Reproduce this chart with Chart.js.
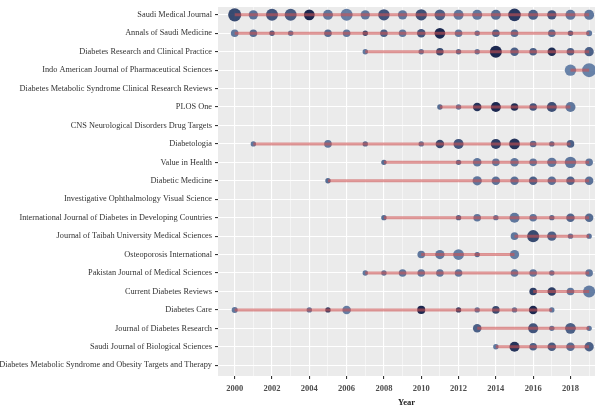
<!DOCTYPE html>
<html>
<head>
<meta charset="utf-8">
<script src="https://cdn.jsdelivr.net/npm/chart.js@4.4.1/dist/chart.umd.min.js"></script>
<style>
  html, body { margin: 0; padding: 0; background: #fff; }
  #wrap { width: 602px; height: 408px; position: relative; }
</style>
</head>
<body>
<div id="wrap"><canvas id="myChart"></canvas></div>
<script>
// journals, top to bottom
const journals = [
  'Saudi Medical Journal',
  'Annals of Saudi Medicine',
  'Diabetes Research and Clinical Practice',
  'Indo American Journal of Pharmaceutical Sciences',
  'Diabetes Metabolic Syndrome Clinical Research Reviews',
  'PLOS One',
  'CNS Neurological Disorders Drug Targets',
  'Diabetologia',
  'Value in Health',
  'Diabetic Medicine',
  'Investigative Ophthalmology Visual Science',
  'International Journal of Diabetes in Developing Countries',
  'Journal of Taibah University Medical Sciences',
  'Osteoporosis International',
  'Pakistan Journal of Medical Sciences',
  'Current Diabetes Reviews',
  'Diabetes Care',
  'Journal of Diabetes Research',
  'Saudi Journal of Biological Sciences',
  'Diabetes Metabolic Syndrome and Obesity Targets and Therapy'
];

// publication years per journal
const pubYears = [
  [2000,2001,2002,2003,2004,2005,2006,2007,2008,2009,2010,2011,2012,2013,2014,2015,2016,2017,2018,2019],
  [2000,2001,2002,2003,2005,2006,2007,2008,2009,2010,2011,2012,2013,2014,2015,2017,2018,2019],
  [2007,2010,2011,2012,2013,2014,2015,2016,2017,2018,2019],
  [2018,2019],
  [],
  [2011,2012,2013,2014,2015,2016,2017,2018],
  [],
  [2001,2005,2007,2010,2011,2012,2014,2015,2016,2017,2018],
  [2008,2012,2013,2014,2015,2016,2017,2018,2019],
  [2005,2013,2014,2015,2016,2017,2018,2019],
  [],
  [2008,2012,2013,2014,2015,2016,2017,2018,2019],
  [2015,2016,2017,2018,2019],
  [2010,2011,2012,2013,2015],
  [2007,2008,2009,2010,2011,2012,2015,2016,2017,2019],
  [2016,2017,2018,2019],
  [2000,2004,2005,2006,2010,2012,2013,2014,2015,2016,2017],
  [2013,2016,2017,2018,2019],
  [2014,2015,2016,2017,2018,2019],
  []
];

// number of articles (bubble size)
const pubCounts = [
  [12,6,10,10,8,7,10,6,9,6,9,8,7,7,7,11,7,6,7,7],
  [4,4,2,2,4,4,2,4,4,5,8,4,2,4,4,4,2,2.5],
  [2,2,4,2,2,10,5,4,5,4,6],
  [9,13.5],
  [],
  [2,2,5,7,4,4,7,7],
  [],
  [2,4,2,2,5,7,7,8,3,2,4],
  [2,2,5,4,5,4,6,9,4],
  [2,6,5,5,5,5,5,5],
  [],
  [2,2,4,2,7,4,2,5,5],
  [4,10,6,2,2],
  [4,6,8,2,6],
  [2,2,4,4,4,4,4,4,2,4],
  [4,5,4,10],
  [2.5,2,2,5,4.5,2,2,4,2,5,2],
  [5,7,2,8,2],
  [2,7,4,5,5,6],
  []
];

// citation impact (bubble shade, 0 light .. 10 dark)
const pubImpact = [
  [7,3.5,6,5.5,10,3,2.5,3,6,3,6.5,5,3,3,4,8.5,5,6,3,3],
  [3,4,5,3,4,3,7,5,3,6,10,3,3,5,4,4,5,3],
  [3,3,7,4,3,10,5,5,9.5,5,5],
  [2,2],
  [],
  [4,3,9,10,9.5,6,6.5,3],
  [],
  [3,3,4,3,7,6,8,9,4,4,5],
  [4,4,3,3,3,3,3,3,3],
  [4,3,3.5,3.5,5,3.5,4.5,3.5],
  [],
  [4,4.5,3,3,3,3,4,4.5,4],
  [3,7,5,3,3.5],
  [3,3,2.5,4,2.5],
  [3,3,3,3,3,3,3,3,3,3],
  [8,8,3,2.5],
  [3,3,8,2.5,10,8,3,7,3,10,3],
  [5,6,3,5,3],
  [3,9,5,5.5,4,5],
  []
];

const tickYears = [2000,2001,2002,2003,2004,2005,2006,2007,2008,2009,2010,2011,2012,2013,2014,2015,2016,2017,2018,2019];

function shade(v) {
  const t = v / 10;
  const a = [112, 144, 186], b = [4, 18, 62];
  const c = a.map((x, i) => Math.round(x + (b[i] - x) * t));
  return 'rgba(' + c.join(',') + ',0.9)';
}

const points = [], colors = [];
const segments = [];
journals.forEach((name, i) => {
  const yrs = pubYears[i];
  yrs.forEach((yr, j) => {
    points.push({ x: yr, y: i + 1, r: 1.9 * Math.sqrt(pubCounts[i][j]) });
    colors.push(shade(pubImpact[i][j]));
  });
  if (yrs.length > 1) {
    segments.push({
      type: 'line',
      data: [{ x: yrs[0], y: i + 1 }, { x: yrs[yrs.length - 1], y: i + 1 }],
      borderColor: 'rgba(205,80,80,0.58)',
      borderWidth: 3,
      pointRadius: 0,
      order: 0
    });
  }
});

const panelBg = {
  id: 'panelBg',
  beforeDraw(chart) {
    const a = chart.chartArea, ctx = chart.ctx;
    ctx.save();
    ctx.fillStyle = '#EBEBEB';
    ctx.fillRect(a.left, a.top, a.right - a.left, a.bottom - a.top);
    ctx.restore();
  }
};

const serif = 'Liberation Serif';

let myChart = document.getElementById('myChart').getContext('2d');

new Chart(myChart, {
  data: {
    datasets: segments.concat([{
      type: 'bubble',
      data: points,
      backgroundColor: colors,
      borderWidth: 0,
      order: 1
    }])
  },
  options: {
    responsive: true,
    maintainAspectRatio: false,
    animation: false,
    layout: { padding: 0 },
    plugins: { legend: { display: false }, tooltip: { enabled: false } },
    scales: {
      x: {
        type: 'linear',
        position: 'bottom',
        min: 1999.105,
        max: 2019.316,
        afterBuildTicks: s => { s.ticks = tickYears.map(v => ({ value: v })); },
        afterFit: s => { s.height = 32; s.paddingLeft = 0; s.paddingRight = 0; },
        ticks: {
          callback: v => (v % 2 === 0 ? String(v) : ''),
          color: '#4d4d4d',
          font: { family: serif, size: 8.5, weight: 'bold' },
          padding: 5,
          maxRotation: 0,
          autoSkip: false
        },
        grid: {
          color: '#ffffff',
          lineWidth: c => (c.tick && c.tick.value % 2 === 0 ? 1.1 : 0.5),
          tickColor: c => (c.tick && c.tick.value % 2 === 0 ? '#333333' : 'rgba(0,0,0,0)'),
          tickLength: 3
        },
        border: { display: false },
        title: {
          display: true,
          text: 'Year',
          color: '#222',
          font: { family: serif, size: 8.5, weight: 'bold' },
          padding: { top: 4, bottom: 0 }
        }
      },
      y: {
        type: 'linear',
        reverse: true,
        min: 0.574,
        max: 20.585,
        afterBuildTicks: s => { s.ticks = journals.map((_, i) => ({ value: i + 1 })); },
        afterFit: s => { s.width = 218; s.paddingTop = 0; s.paddingBottom = 0; },
        ticks: {
          callback: v => journals[v - 1],
          color: '#333333',
          font: { family: serif, size: 8.3 },
          padding: 3,
          autoSkip: false
        },
        grid: {
          color: '#ffffff',
          lineWidth: 1.1,
          tickColor: '#333333',
          tickLength: 3
        },
        border: { display: false }
      }
    }
  },
  plugins: [panelBg]
});
</script>
</body>
</html>
